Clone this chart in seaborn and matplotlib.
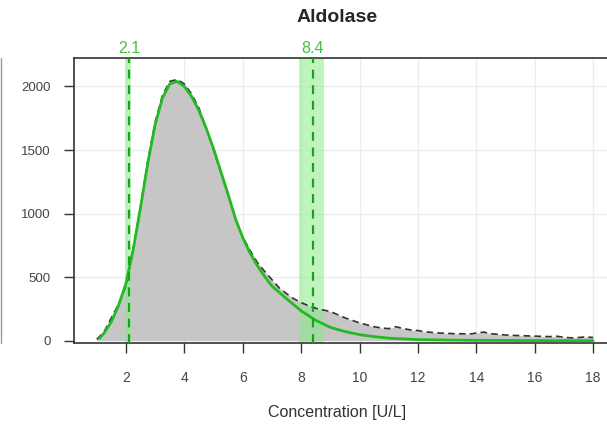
import numpy as np
import pandas as pd
import matplotlib
matplotlib.use("Agg")
import matplotlib.pyplot as plt
import seaborn as sns
from matplotlib.lines import Line2D

# ---- data ----
hist_x = [1.0, 1.25, 1.5, 1.75, 2.0, 2.25, 2.5, 2.75, 3.0, 3.25, 3.5, 3.75, 4.0,
          4.25, 4.5, 4.75, 5.0, 5.25, 5.5, 5.75, 6.0, 6.25, 6.5, 6.75, 7.0, 7.25,
          7.5, 7.75, 8.0, 8.25, 8.5, 8.75, 9.0, 9.25, 9.5, 9.75, 10.0, 10.25, 10.5,
          10.75, 11.0, 11.25, 11.5, 11.75, 12.0, 12.25, 12.5, 12.75, 13.0, 13.25,
          13.5, 13.75, 14.0, 14.25, 14.5, 14.75, 15.0, 15.25, 15.5, 15.75, 16.0,
          16.25, 16.5, 16.75, 17.0, 17.25, 17.5, 17.75, 18.0]
hist_count = [10, 70, 180, 290, 430, 720, 1060, 1420, 1720, 1930, 2040, 2055, 2020,
              1940, 1830, 1670, 1500, 1320, 1150, 960, 815, 710, 615, 545, 480, 415,
              370, 330, 300, 275, 255, 242, 230, 205, 180, 160, 140, 125, 110,
              100, 95, 110, 95, 85, 80, 70, 65, 60, 58, 55,
              55, 52, 60, 68, 55, 50, 45, 42, 40, 38, 36,
              34, 32, 35, 28, 22, 25, 30, 25]

fit_x = [1.1, 1.25, 1.5, 1.75, 2.0, 2.25, 2.5, 2.75, 3.0, 3.25, 3.5, 3.75, 4.0,
         4.25, 4.5, 4.75, 5.0, 5.25, 5.5, 5.75, 6.0, 6.25, 6.5, 6.75, 7.0, 7.5,
         8.0, 8.5, 9.0, 9.5, 10.0, 10.5, 11.0, 12.0, 13.0, 14.0, 16.0, 18.0]
fit_y = [20, 60, 150, 280, 450, 720, 1050, 1400, 1700, 1910, 2020, 2040, 2000,
         1920, 1810, 1670, 1510, 1330, 1150, 960, 810, 690, 590, 505, 430, 330,
         235, 160, 105, 72, 48, 32, 20, 9, 5, 3, 1, 0]

ref_values = [2.1, 8.4]
ref_labels = ["2.1", "8.4"]
ref_band_lo = [1.98, 7.92]
ref_band_hi = [2.17, 8.78]

x_ticks = [2, 4, 6, 8, 10, 12, 14, 16, 18]
y_ticks = [0, 500, 1000, 1500, 2000]
title = "Aldolase"
x_label = "Concentration [U/L]"

# ---- plotting ----
sns.set_style("white")
plt.rcParams['font.family'] = ['Liberation Sans', 'DejaVu Sans']

fig = plt.figure(figsize=(6.07, 4.26), dpi=100)
ax = fig.add_axes([74/607, 83/426, (613-74)/607, (343-58)/426])

# grid
for xv in x_ticks:
    ax.axvline(xv, color="#ececec", lw=1, zorder=0)
for yv in y_ticks[1:]:
    ax.axhline(yv, color="#ececec", lw=1, zorder=0)

df_h = pd.DataFrame({"x": hist_x, "count": hist_count})
sns.histplot(data=df_h, x="x", weights="count", binwidth=0.25,
             binrange=(hist_x[0] - 0.125, hist_x[-1] + 0.125), element="poly",
             fill=True, color="#c6c6c6", alpha=1, linewidth=0, ax=ax, zorder=1)

sns.lineplot(data=df_h, x="x", y="count", ax=ax, color="#333333", lw=1.2,
             linestyle=(0, (4, 2.5)), zorder=3)

df_f = pd.DataFrame({"x": fit_x, "y": fit_y})
sns.lineplot(data=df_f, x="x", y="y", ax=ax, color="#22bb22", lw=2, zorder=4)

ax.set_xlim(0.22, 18.68)
ax.set_ylim(-18, 2224)

for v, lab, lo, hi in zip(ref_values, ref_labels, ref_band_lo, ref_band_hi):
    ax.axvspan(lo, hi, color="#88ee88", alpha=0.55, lw=0, zorder=2)
    ax.axvline(v, color="#1f9f1f", lw=1.6, linestyle=(0, (4, 3)), zorder=5)
    ax.text(v, 2224 + 12, lab, color="#44c044", fontsize=11.5, ha="center",
            va="bottom")

ax.set_xticks(x_ticks)
ax.set_yticks(y_ticks)
ax.set_xticklabels([str(t) for t in x_ticks])
ax.set_yticklabels([str(t) for t in y_ticks])
ax.tick_params(axis="x", direction="out", length=7, width=1, color="#333333",
               labelsize=10, labelcolor="#444444", pad=13, bottom=True)
ax.tick_params(axis="y", direction="out", length=7, width=1, color="#333333",
               labelsize=9.5, labelcolor="#444444", pad=10, left=True)
for s in ["left", "bottom", "top", "right"]:
    ax.spines[s].set_color("#333333")
    ax.spines[s].set_linewidth(1.2)

ax.set_xlabel("")
ax.set_ylabel("")
fig.text(337/607, 1 - 412/426, x_label, fontsize=11.5, color="#333333",
         ha="center", va="center")
fig.text(337/607, 1 - 17/426, title, fontsize=14, fontweight="bold",
         ha="center", va="center")

# border of neighbouring panel at the far left edge
fig.add_artist(Line2D([1.5/607, 1.5/607], [1 - 58/426, 1 - 343/426],
                      color="#999999", lw=1, transform=fig.transFigure))

fig.savefig("out.png", dpi=100)
